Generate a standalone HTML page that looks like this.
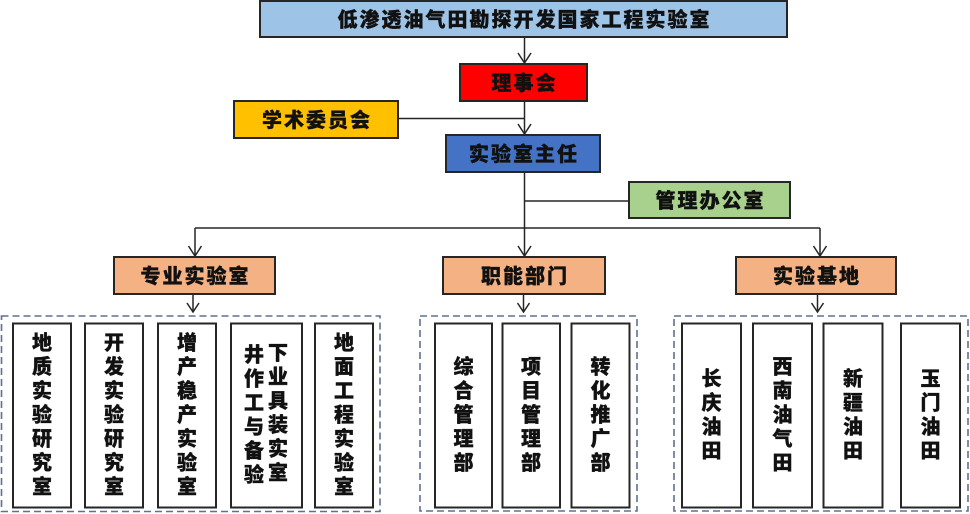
<!DOCTYPE html>
<html>
<head>
<meta charset="utf-8">
<style>
  html, body { margin: 0; padding: 0; background: #ffffff; }
  body { width: 970px; height: 514px; overflow: hidden; }
  svg { display: block; }
  text { font-family: "Liberation Sans", "Noto Sans CJK SC", sans-serif; font-weight: 900; fill: #111; stroke: #111; stroke-width: 0.35; }
  .h { font-size: 20px; letter-spacing: 2px; text-anchor: middle; }
  .v { font-size: 20px; text-anchor: middle; }
  .box { stroke: #262626; stroke-width: 2; }
  .ln { stroke: #262626; stroke-width: 1.5; fill: none; }
  .dash { stroke: #5f7190; stroke-width: 1.6; fill: none; stroke-dasharray: 7 4; }
</style>
</head>
<body>
<svg width="970" height="514" viewBox="0 0 970 514" xmlns="http://www.w3.org/2000/svg">
  <!-- connectors -->
  <line class="ln" x1="524.5" y1="37" x2="524.5" y2="63"/>
  <polyline class="ln" points="518,53 524.5,63 531,53"/>
  <line class="ln" x1="524.5" y1="101" x2="524.5" y2="134"/>
  <polyline class="ln" points="518,124 524.5,134 531,124"/>
  <line class="ln" x1="398" y1="118.5" x2="524.5" y2="118.5"/>
  <line class="ln" x1="524.5" y1="172" x2="524.5" y2="228"/>
  <line class="ln" x1="524.5" y1="201" x2="629" y2="201"/>
  <line class="ln" x1="195" y1="228" x2="820" y2="228"/>
  <line class="ln" x1="195" y1="228" x2="195" y2="256"/>
  <polyline class="ln" points="188.5,246 195,256 201.5,246"/>
  <line class="ln" x1="524.5" y1="228" x2="524.5" y2="256"/>
  <polyline class="ln" points="518,246 524.5,256 531,246"/>
  <line class="ln" x1="820" y1="228" x2="820" y2="256"/>
  <polyline class="ln" points="813.5,246 820,256 826.5,246"/>
  <line class="ln" x1="193" y1="294" x2="193" y2="312"/>
  <polyline class="ln" points="187,303 193,312 199,303"/>
  <line class="ln" x1="523.5" y1="294" x2="523.5" y2="312"/>
  <polyline class="ln" points="517.5,303 523.5,312 529.5,303"/>
  <line class="ln" x1="817.5" y1="294" x2="817.5" y2="312"/>
  <polyline class="ln" points="811.5,303 817.5,312 823.5,303"/>

  <!-- header boxes -->
  <rect class="box" x="260" y="1" width="527" height="36" fill="#9dc3e6"/>
  <text class="h" x="524.5" y="26.5">低渗透油气田勘探开发国家工程实验室</text>

  <rect class="box" x="460" y="64" width="127" height="37" fill="#ff0000"/>
  <text class="h" x="524.5" y="90">理事会</text>

  <rect class="box" x="234" y="101" width="164" height="37" fill="#ffc000"/>
  <text class="h" x="317" y="127">学术委员会</text>

  <rect class="box" x="446" y="135" width="154" height="37" fill="#4472c4"/>
  <text class="h" x="524" y="161">实验室主任</text>

  <rect class="box" x="629" y="182" width="161" height="36" fill="#a9d18e"/>
  <text class="h" x="710.5" y="207.5">管理办公室</text>

  <rect class="box" x="114" y="257" width="161" height="37" fill="#f4b183"/>
  <text class="h" x="195.5" y="283">专业实验室</text>

  <rect class="box" x="443" y="257" width="162" height="37" fill="#f4b183"/>
  <text class="h" x="525" y="283">职能部门</text>

  <rect class="box" x="736" y="257" width="160" height="37" fill="#f4b183"/>
  <text class="h" x="817" y="283">实验基地</text>

  <!-- dashed containers -->
  <rect class="dash" x="1.5" y="316" width="378.5" height="195.5"/>
  <rect class="dash" x="420" y="316" width="217" height="195"/>
  <rect class="dash" x="674" y="316" width="294" height="195"/>

  <!-- left group -->
  <rect class="box" x="13" y="323.5" width="58" height="184" fill="#fff"/>
  <text class="v" x="42" y="349.6"><tspan x="42">地</tspan><tspan x="42" dy="24">质</tspan><tspan x="42" dy="24">实</tspan><tspan x="42" dy="24">验</tspan><tspan x="42" dy="24">研</tspan><tspan x="42" dy="24">究</tspan><tspan x="42" dy="24">室</tspan></text>

  <rect class="box" x="85" y="323.5" width="58" height="184" fill="#fff"/>
  <text class="v" x="114" y="349.6"><tspan x="114">开</tspan><tspan x="114" dy="24">发</tspan><tspan x="114" dy="24">实</tspan><tspan x="114" dy="24">验</tspan><tspan x="114" dy="24">研</tspan><tspan x="114" dy="24">究</tspan><tspan x="114" dy="24">室</tspan></text>

  <rect class="box" x="158" y="323.5" width="58" height="184" fill="#fff"/>
  <text class="v" x="187" y="349.6"><tspan x="187">增</tspan><tspan x="187" dy="24">产</tspan><tspan x="187" dy="24">稳</tspan><tspan x="187" dy="24">产</tspan><tspan x="187" dy="24">实</tspan><tspan x="187" dy="24">验</tspan><tspan x="187" dy="24">室</tspan></text>

  <rect class="box" x="231" y="323.5" width="71" height="184" fill="#fff"/>
  <text class="v" x="254" y="361.6"><tspan x="254">井</tspan><tspan x="254" dy="24">作</tspan><tspan x="254" dy="24">工</tspan><tspan x="254" dy="24">与</tspan><tspan x="254" dy="24">备</tspan><tspan x="254" dy="24">验</tspan></text>
  <text class="v" x="278" y="359.6"><tspan x="278">下</tspan><tspan x="278" dy="24">业</tspan><tspan x="278" dy="24">具</tspan><tspan x="278" dy="24">装</tspan><tspan x="278" dy="24">实</tspan><tspan x="278" dy="24">室</tspan></text>

  <rect class="box" x="315" y="323.5" width="58" height="184" fill="#fff"/>
  <text class="v" x="344" y="349.6"><tspan x="344">地</tspan><tspan x="344" dy="24">面</tspan><tspan x="344" dy="24">工</tspan><tspan x="344" dy="24">程</tspan><tspan x="344" dy="24">实</tspan><tspan x="344" dy="24">验</tspan><tspan x="344" dy="24">室</tspan></text>

  <!-- middle group -->
  <rect class="box" x="435" y="323.5" width="57" height="184" fill="#fff"/>
  <text class="v" x="463.5" y="373.6"><tspan x="463.5">综</tspan><tspan x="463.5" dy="24">合</tspan><tspan x="463.5" dy="24">管</tspan><tspan x="463.5" dy="24">理</tspan><tspan x="463.5" dy="24">部</tspan></text>

  <rect class="box" x="502.5" y="323.5" width="57.5" height="184" fill="#fff"/>
  <text class="v" x="531" y="373.6"><tspan x="531">项</tspan><tspan x="531" dy="24">目</tspan><tspan x="531" dy="24">管</tspan><tspan x="531" dy="24">理</tspan><tspan x="531" dy="24">部</tspan></text>

  <rect class="box" x="571.5" y="323.5" width="58" height="184" fill="#fff"/>
  <text class="v" x="600.5" y="373.6"><tspan x="600.5">转</tspan><tspan x="600.5" dy="24">化</tspan><tspan x="600.5" dy="24">推</tspan><tspan x="600.5" dy="24">广</tspan><tspan x="600.5" dy="24">部</tspan></text>

  <!-- right group -->
  <rect class="box" x="682" y="323.5" width="59" height="184" fill="#fff"/>
  <text class="v" x="711.5" y="385.6"><tspan x="711.5">长</tspan><tspan x="711.5" dy="24">庆</tspan><tspan x="711.5" dy="24">油</tspan><tspan x="711.5" dy="24">田</tspan></text>

  <rect class="box" x="753" y="323.5" width="59" height="184" fill="#fff"/>
  <text class="v" x="782.5" y="373.6"><tspan x="782.5">西</tspan><tspan x="782.5" dy="24">南</tspan><tspan x="782.5" dy="24">油</tspan><tspan x="782.5" dy="24">气</tspan><tspan x="782.5" dy="24">田</tspan></text>

  <rect class="box" x="823.5" y="323.5" width="59" height="184" fill="#fff"/>
  <text class="v" x="853" y="385.6"><tspan x="853">新</tspan><tspan x="853" dy="24">疆</tspan><tspan x="853" dy="24">油</tspan><tspan x="853" dy="24">田</tspan></text>

  <rect class="box" x="901" y="323.5" width="59" height="184" fill="#fff"/>
  <text class="v" x="930.5" y="385.6"><tspan x="930.5">玉</tspan><tspan x="930.5" dy="24">门</tspan><tspan x="930.5" dy="24">油</tspan><tspan x="930.5" dy="24">田</tspan></text>
</svg>
</body>
</html>
